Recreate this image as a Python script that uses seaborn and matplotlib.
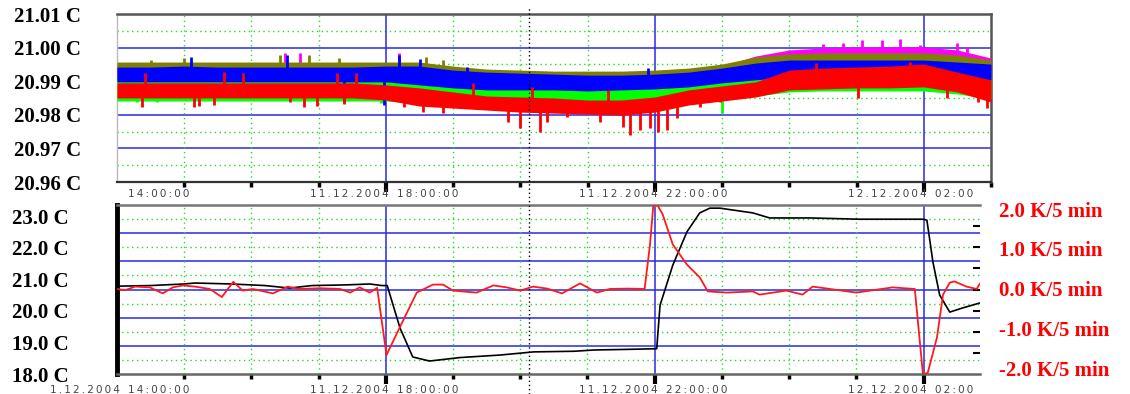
import numpy as np
import matplotlib
matplotlib.use("Agg")
import matplotlib.pyplot as plt
import seaborn as sns
from matplotlib.transforms import ScaledTranslation, blended_transform_factory

sns.set_theme(style="white")
plt.rcParams["font.family"] = ["DejaVu Sans"]

# time axis: hours after 11.12.2004 14:00:00
hours = [0.0, 0.5, 1.0, 1.5, 2.0, 2.5, 3.0, 3.5, 4.0, 4.5, 5.0, 5.5, 6.0, 6.5,
         7.0, 7.5, 8.0, 8.5, 9.0, 9.5, 10.0, 10.5, 11.0, 11.5, 12.0, 12.5, 13.0]

# --- top panel: five sensors, band of noise (low / high edge) in deg C ---
blue_hi = [20.9942, 20.9942, 20.9945, 20.9942, 20.9942, 20.9942, 20.9942, 20.9942, 20.9945,
           20.9945, 20.9933, 20.9927, 20.9924, 20.9921, 20.9918, 20.9918, 20.9921, 20.9927,
           20.9939, 20.9954, 20.9963, 20.9963, 20.9963, 20.9963, 20.9963, 20.9957, 20.9951]
blue_lo = [20.9898, 20.9898, 20.9898, 20.9898, 20.9898, 20.9898, 20.9898, 20.9898, 20.9898,
           20.9889, 20.9880, 20.9874, 20.9874, 20.9874, 20.9871, 20.9874, 20.9877, 20.9883,
           20.9895, 20.9904, 20.9913, 20.9913, 20.9913, 20.9913, 20.9913, 20.9907, 20.9904]
red_hi = [20.9895, 20.9895, 20.9895, 20.9895, 20.9895, 20.9895, 20.9895, 20.9895, 20.9889,
          20.9880, 20.9868, 20.9856, 20.9853, 20.9850, 20.9844, 20.9844, 20.9853, 20.9874,
          20.9886, 20.9898, 20.9933, 20.9939, 20.9942, 20.9945, 20.9951, 20.9927, 20.9904]
red_lo = [20.9850, 20.9850, 20.9850, 20.9850, 20.9850, 20.9850, 20.9850, 20.9850, 20.9844,
          20.9826, 20.9820, 20.9814, 20.9808, 20.9805, 20.9802, 20.9799, 20.9808, 20.9829,
          20.9841, 20.9853, 20.9874, 20.9877, 20.9880, 20.9880, 20.9883, 20.9868, 20.9838]
green_hi = [20.9910, 20.9910, 20.9910, 20.9910, 20.9910, 20.9910, 20.9910, 20.9910, 20.9910,
            20.9904, 20.9892, 20.9886, 20.9883, 20.9883, 20.9880, 20.9880, 20.9886, 20.9898,
            20.9910, 20.9918, 20.9927, 20.9933, 20.9933, 20.9933, 20.9933, 20.9927, 20.9915]
green_lo = [20.9841, 20.9841, 20.9841, 20.9841, 20.9841, 20.9841, 20.9841, 20.9841, 20.9841,
            20.9835, 20.9829, 20.9826, 20.9823, 20.9820, 20.9820, 20.9820, 20.9826, 20.9841,
            20.9850, 20.9856, 20.9868, 20.9871, 20.9871, 20.9871, 20.9871, 20.9862, 20.9847]
olive_hi = [20.9957, 20.9957, 20.9957, 20.9957, 20.9957, 20.9957, 20.9957, 20.9957, 20.9957,
            20.9957, 20.9945, 20.9936, 20.9933, 20.9930, 20.9930, 20.9930, 20.9933, 20.9939,
            20.9951, 20.9972, 20.9981, 20.9984, 20.9984, 20.9984, 20.9984, 20.9978, 20.9963]
olive_lo = [20.9904, 20.9904, 20.9904, 20.9904, 20.9904, 20.9904, 20.9904, 20.9904, 20.9904,
            20.9895, 20.9886, 20.9880, 20.9880, 20.9880, 20.9880, 20.9880, 20.9886, 20.9889,
            20.9901, 20.9910, 20.9918, 20.9918, 20.9918, 20.9918, 20.9918, 20.9913, 20.9910]
magenta_hi = [20.9948, 20.9948, 20.9948, 20.9948, 20.9948, 20.9948, 20.9948, 20.9948, 20.9948,
              20.9945, 20.9927, 20.9924, 20.9921, 20.9921, 20.9921, 20.9921, 20.9924, 20.9933,
              20.9945, 20.9975, 20.9993, 20.9999, 21.0002, 21.0002, 21.0002, 20.9993, 20.9969]
magenta_lo = olive_lo

# single spikes sticking out of the bands (tip values)
red_spike_t = [0.37, 1.14, 1.22, 1.44, 2.57, 2.78, 2.98, 3.37, 4.27, 4.55, 4.85, 5.82, 6.0, 6.29, 6.4,
               6.7, 7.18, 7.53, 7.63, 7.78, 7.93, 8.05, 8.18, 8.33, 8.67, 8.97, 11.02, 12.35, 12.8, 12.94,
               0.42, 1.59, 1.88, 3.27, 3.55, 5.30, 6.17, 7.30, 10.4, 11.8]
red_spike_v = [20.9823, 20.9823, 20.9826, 20.9829, 20.9838, 20.9823, 20.9826, 20.9832, 20.9823, 20.9808,
               20.9805, 20.9779, 20.9761, 20.9749, 20.9779, 20.9793, 20.9779, 20.9764, 20.9740, 20.9755,
               20.9761, 20.9749, 20.9755, 20.9790, 20.9823, 20.9838, 20.9850, 20.9850, 20.9838, 20.9820,
               20.9924, 20.9927, 20.9924, 20.9924, 20.9924, 20.9895, 20.9883, 20.9874, 20.9954, 20.9957]
green_spike_t = [0.3, 0.6, 2.78, 3.92, 9.0]
green_spike_v = [20.9838, 20.9838, 20.9835, 20.9835, 20.9805]
olive_spike_t = [0.5, 1.0, 2.42, 2.85, 3.3, 4.6, 4.85]
olive_spike_v = [20.9963, 20.9969, 20.9978, 20.9978, 20.9969, 20.9972, 20.9963]
magenta_spike_t = [2.5, 2.72, 4.2, 10.5, 10.8, 11.08, 11.38, 11.65, 11.95, 12.5, 12.65]
magenta_spike_v = [20.9984, 20.9984, 20.9984, 21.0011, 21.0014, 21.0023, 21.0023, 21.0026,
                   21.0008, 21.0014, 21.0002]
blue_spike_t = [1.1, 2.53, 4.2, 4.5, 5.2, 7.9, 3.37, 3.97]
blue_spike_v = [20.9972, 20.9978, 20.9978, 20.9966, 20.9942, 20.9939, 20.9838, 20.9829]

# --- bottom panel: room temperature (deg C) and gradient (K/5 min) ---
black_t = [0.0, 0.5, 1.0, 1.16, 1.7, 2.2, 2.57, 2.9, 3.4, 3.76, 3.94, 4.02, 4.21, 4.4, 4.65, 5.1,
           5.7, 6.2, 6.8, 7.1, 7.6, 8.03, 8.08, 8.27, 8.48, 8.67, 8.82, 8.97, 9.46, 9.71, 10.31,
           11.05, 11.99, 12.05, 12.14, 12.24, 12.39, 12.58, 12.84]
black_temp = [20.78, 20.80, 20.85, 20.88, 20.85, 20.80, 20.72, 20.80, 20.82, 20.85, 20.80, 20.80,
              19.46, 18.54, 18.41, 18.52, 18.60, 18.70, 18.72, 18.76, 18.78, 18.80, 20.18, 21.45,
              22.50, 23.10, 23.25, 23.25, 23.10, 22.94, 22.94, 22.90, 22.90, 22.87, 21.54, 20.50,
              19.96, 20.09, 20.25]

red_t = [0.0, 0.12, 0.27, 0.49, 0.68, 0.83, 0.98, 1.16, 1.38, 1.56, 1.73, 1.87, 2.02, 2.32, 2.54,
         2.72, 3.02, 3.32, 3.47, 3.61, 3.76, 3.87, 4.01, 4.25, 4.46, 4.70, 4.85, 5.0, 5.35, 5.6,
         5.8, 6.0, 6.19, 6.4, 6.62, 6.89, 7.14, 7.33, 7.59, 7.85, 7.93, 7.98, 8.04, 8.12, 8.27,
         8.48, 8.67, 8.79, 9.07, 9.46, 9.56, 9.96, 10.2, 10.35, 11.0, 11.54, 11.87, 11.99, 12.06,
         12.2, 12.29, 12.39, 12.46, 12.64, 12.79, 12.84]
red_grad = [0.0, -0.03, 0.06, 0.04, -0.11, 0.04, 0.09, 0.06, 0.0, -0.20, 0.18, -0.04, 0.0, -0.11,
            0.06, 0.0, 0.02, 0.0, -0.09, 0.04, -0.09, 0.03, -1.65, -0.81, -0.09, 0.11, 0.11, -0.04,
            -0.09, 0.09, 0.04, -0.04, 0.06, 0.01, -0.11, 0.14, -0.09, 0.0, 0.01, 0.0, 1.11, 2.10,
            2.10, 1.86, 1.11, 0.61, 0.29, -0.06, -0.09, -0.06, -0.14, -0.04, -0.14, 0.06, -0.09,
            0.04, 0.0, -2.11, -2.11, -1.21, -0.14, 0.16, 0.19, 0.06, 0.0, 0.14]

top_ticks = [20.96, 20.97, 20.98, 20.99, 21.00, 21.01]
left_ticks = [18.0, 19.0, 20.0, 21.0, 22.0, 23.0]
right_ticks = [-2.0, -1.0, 0.0, 1.0, 2.0]
label_hours = [0, 4, 8, 12]
label_dates = ["1.12.2004", "11.12.2004", "11.12.2004", "12.12.2004"]
label_times = ["14:00:00", "18:00:00", "22:00:00", "02:00"]
cursor_hour = 6.13

GRID_BLUE = "#2a2ae6"
DOT_GREEN = "#22dd22"
SERIF = ["Liberation Serif", "DejaVu Serif"]

fig = plt.figure(figsize=(11.3, 3.94), dpi=100)
ax1 = fig.add_axes([117 / 1130, 1 - 182 / 394, 874 / 1130, 168 / 394])
ax2 = fig.add_axes([117 / 1130, 1 - 374 / 394, 863 / 1130, 169 / 394])
ax2r = ax2.twinx()


def vgrid(ax, last):
    for h in range(1, last + 1):
        if h % 4 == 0:
            ax.axvline(h, color=GRID_BLUE, lw=1.1, zorder=1)
        else:
            ax.axvline(h, color=DOT_GREEN, lw=1, ls=(0, (1, 2.5)), zorder=1)


def hour_ticks(ax, last):
    ax.set_xticks([4, 8, 12])
    ax.set_xticks([h for h in range(0, last + 1) if h % 4 != 0], minor=True)
    ax.tick_params(axis="x", which="major", direction="out", length=7, width=3,
                   color="black", labelbottom=False, bottom=True)
    ax.tick_params(axis="x", which="minor", direction="out", length=3.5, width=2.5,
                   color="black", bottom=True)


def spaced(s):
    return "\u2009".join(s)


def time_labels(ax, ypos, first_date):
    base = blended_transform_factory(ax.transData, fig.transFigure)
    left = base + ScaledTranslation(0.03, 0, fig.dpi_scale_trans)
    right = base + ScaledTranslation(0.11, 0, fig.dpi_scale_trans)
    for i, (h, d, tm) in enumerate(zip(label_hours, label_dates, label_times)):
        if i > 0 or first_date:
            fig.text(h, ypos, spaced(d), transform=left, ha="right", va="center",
                     fontsize=7.5, color="#444444")
        fig.text(h, ypos, spaced(tm), transform=right, ha="left", va="center",
                 fontsize=7.5, color="#444444")


# ---------------- top panel ----------------
ax1.set_xlim(0, 13)
ax1.set_ylim(20.96, 21.01)
for v in [21.00, 20.99, 20.98, 20.97]:
    ax1.axhline(v, color=GRID_BLUE, lw=1.1, zorder=1)
for v in [21.005, 20.995, 20.985, 20.975, 20.965]:
    ax1.axhline(v, color=DOT_GREEN, lw=1, ls=(0, (1, 2.5)), zorder=1)
vgrid(ax1, 13)

bands = [
    (magenta_lo, magenta_hi, "#ff00ff", magenta_spike_t, magenta_spike_v),
    (olive_lo, olive_hi, "#808000", olive_spike_t, olive_spike_v),
    (green_lo, green_hi, "#00ff00", green_spike_t, green_spike_v),
    (blue_lo, blue_hi, "#0000ff", blue_spike_t, blue_spike_v),
    (red_lo, red_hi, "#ff0000", red_spike_t, red_spike_v),
]
for z, (lo, hi, col, st, sv) in enumerate(bands):
    ax1.fill_between(hours, lo, hi, color=col, lw=0, zorder=3 + z)
    mid = (np.array(lo) + np.array(hi)) / 2
    base = np.interp(st, hours, mid)
    ax1.vlines(st, base, sv, color=col, lw=2, zorder=3 + z)

ax1.set_yticks(top_ticks)
ax1.set_yticklabels([f"{v:.2f} C" for v in top_ticks], fontsize=15,
                    fontweight="bold", family=SERIF, color="black")
ax1.tick_params(axis="y", length=0, pad=26)
hour_ticks(ax1, 13)
ax1.axvline(cursor_hour, ymin=-0.14, ymax=1.04, color="black", lw=1,
            ls=(0, (1, 2)), clip_on=False, zorder=10)
for side, col, lw in [("top", "#555555", 1.8), ("right", "#555555", 1.8),
                      ("bottom", "#333333", 1.6), ("left", "#bbbbbb", 1.0)]:
    ax1.spines[side].set_color(col)
    ax1.spines[side].set_linewidth(lw)
time_labels(ax1, 1 - 194 / 394, False)

# ---------------- bottom panel ----------------
ax2.set_xlim(0, 12.84)
ax2.set_ylim(18.0, 23.35)
ax2r.set_ylim(-2.125, 2.1)
for k in range(1, 6):
    ax2.plot([0, 1], [k / 6, k / 6], transform=ax2.transAxes, color=GRID_BLUE, lw=1.1, zorder=1)
for k in range(6):
    ax2.plot([0, 1], [(k + 0.5) / 6, (k + 0.5) / 6], transform=ax2.transAxes,
             color=DOT_GREEN, lw=1, ls=(0, (1, 2.5)), zorder=1)
vgrid(ax2, 12)

sns.lineplot(x=black_t, y=black_temp, ax=ax2, color="black", lw=1.2, estimator=None, zorder=4)
sns.lineplot(x=red_t, y=red_grad, ax=ax2r, color="#ff1a1a", lw=1.3, estimator=None, zorder=5)

ax2.set_yticks(left_ticks)
ax2.set_yticklabels([f"{v:.1f} C" for v in left_ticks], fontsize=15,
                    fontweight="bold", family=SERIF, color="black")
ax2.tick_params(axis="y", length=0, pad=35)
hour_ticks(ax2, 12)

ax2r.set_yticks(right_ticks)
ax2r.set_yticklabels([f"{v:.1f} K/5 min" for v in right_ticks], fontsize=15,
                     fontweight="bold", family=SERIF, color="#ff0000")
lo_r, hi_r = ax2r.get_ylim()
ax2r.set_yticks([lo_r + k * (hi_r - lo_r) / 8 for k in range(1, 8)], minor=True)
ax2r.tick_params(axis="y", which="major", length=0, pad=14)
ax2r.tick_params(axis="y", which="minor", direction="in", length=5, width=1.5,
                 color="black", right=True)

ax2.axvline(cursor_hour, ymin=-0.12, ymax=1.0, color="black", lw=1,
            ls=(0, (1, 2)), clip_on=False, zorder=10)
ax2.set_xlabel("")
ax2.set_ylabel("")
ax2r.set_ylabel("")
for s in ax2r.spines.values():
    s.set_visible(False)
ax2.spines["right"].set_visible(False)
ax2.spines["left"].set_color("black")
ax2.spines["left"].set_linewidth(3.5)
ax2.spines["top"].set_color("#777777")
ax2.spines["top"].set_linewidth(1.8)
ax2.spines["bottom"].set_color("#666666")
ax2.spines["bottom"].set_linewidth(1.8)
time_labels(ax2, 1 - 390 / 394, True)

fig.savefig("out.png", dpi=100, facecolor="white")
